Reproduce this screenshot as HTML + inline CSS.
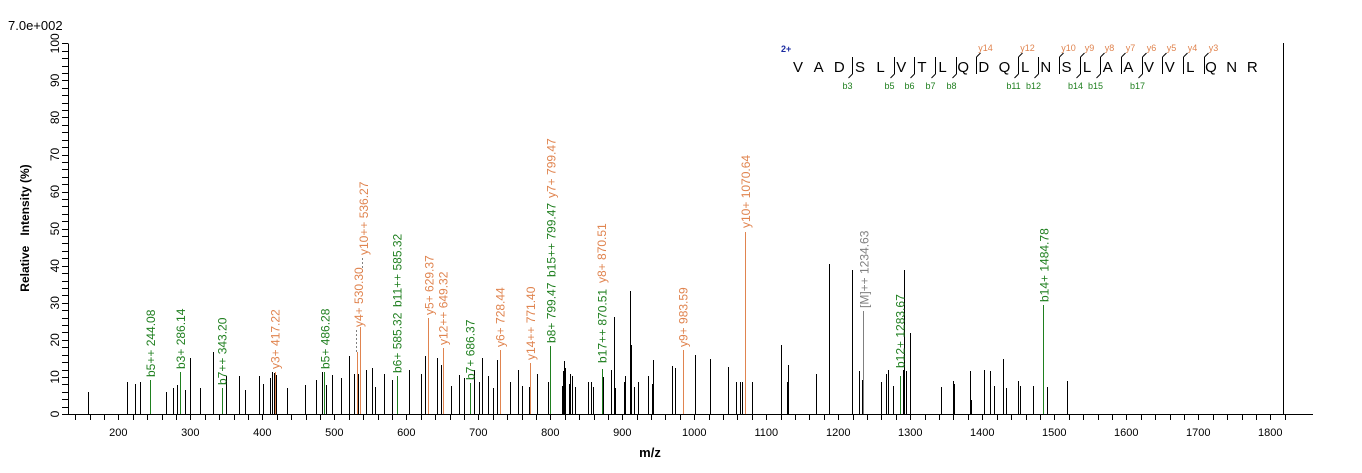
<!DOCTYPE html>
<html><head><meta charset="utf-8"><style>
html,body{margin:0;padding:0;background:#fff;}
svg{display:block;font-family:"Liberation Sans",sans-serif;}
line{shape-rendering:crispEdges;}
</style></head><body>
<svg id="s" width="1362" height="473" viewBox="0 0 1362 473" xmlns="http://www.w3.org/2000/svg">
<text x="8" y="30" font-size="13" fill="#000">7.0e+002</text>
<g id="ax" stroke="#000" stroke-width="1"></g>
<g id="pk" stroke="#000" stroke-width="1"></g>
<g id="lb" font-size="12"></g>
<text transform="translate(29,228) rotate(-90)" text-anchor="middle" font-size="12" font-weight="bold" xml:space="preserve" style="white-space:pre">Relative   Intensity (%)</text>
<text x="650" y="457" text-anchor="middle" font-size="13" font-weight="bold">m/z</text>
<g id="seq"></g>
<text x="781" y="52" font-size="9" font-weight="bold" fill="#1a2aa0">2+</text>
</svg>
<script>
var NS="http://www.w3.org/2000/svg";
function el(p,t,a,txt){var e=document.createElementNS(NS,t);for(var k in a)e.setAttribute(k,a[k]);if(txt!==undefined)e.textContent=txt;document.getElementById(p).appendChild(e);return e;}
function R(x){return Math.round(x)+0.5;}
var Y0=414,Y100=43.3;
function X(m){return 118.3+(m-200)*0.72;}
el('ax','line',{x1:68,y1:R(Y0),x2:1313,y2:R(Y0)});
el('ax','line',{x1:R(68),y1:Y100,x2:R(68),y2:Y0});
for(var m=140;m<=1820;m+=20){var x=X(m);el('ax','line',{x1:R(x),y1:Y0,x2:R(x),y2:Y0+6});
 if(m%100==0)el('lb','text',{x:x,y:436,'text-anchor':'middle','font-size':'11',fill:'#000',stroke:'none'},String(m));}
for(var v=0;v<=100;v+=2){var y=Y0-(Y0-Y100)*v/100;el('ax','line',{x1:62,y1:R(y),x2:68,y2:R(y)});
 if(v%10==0)el('lb','text',{transform:'translate(59,'+y+') rotate(-90)','text-anchor':'middle','font-size':'12',fill:'#000'},String(v));}
var P=[[88,392],[127,382],[135,384],[140,382],[166,392],[173,388],[177,385],[185,390],[190,358],[200,388],[213,352],[226,376],[239,376],[245,390],[259,376],[263,384],[270,378],[272,372],[274,373],[276,375],[287,388],[305,385],[316,380],[322,372],[326,385],[332,375],[341,378],[349,356],[354,374],[358,374],[366,370],[372,368],[375,387],[384,374],[392,380],[397,377],[409,370],[421,374],[425,356],[437,358],[441,365],[451,386],[459,375],[464,378],[474,370],[479,382],[482,358],[488,376],[493,388],[497,360],[500,382],[510,382],[518,370],[522,386],[529,387],[537,374],[548,382],[562,386],[563,371],[564,361],[565,368],[569,384],[570,374],[572,376],[575,387],[588,382],[591,382],[593,387],[603,377],[611,370],[614,317],[615,388],[624,382],[625,376],[630,291],[631,345],[634,387],[638,382],[648,376],[652,384],[653,360],[672,366],[675,368],[695,355],[710,359],[728,367],[736,382],[740,382],[742,382],[745,382],[752,382],[781,345],[787,382],[788,365],[816,374],[829,264],[852,371],[852,270],[859,371],[862,380],[881,382],[886,374],[888,370],[893,386],[903,370],[904,270],[906,371],[910,333],[941,387],[953,381],[954,384],[970,371],[971,400],[984,370],[990,371],[994,386],[1003,359],[1006,388],[1018,381],[1020,386],[1033,386],[1047,387],[1067,381]];
P.forEach(function(p){el('pk','line',{x1:R(p[0]),y1:Y0,x2:R(p[0]),y2:p[1]});});
el('pk','line',{x1:R(1283.3),y1:Y0,x2:R(1283.3),y2:43});
var G='#1f7f1f',O='#e0844f',GR='#808080';
var L=[[150,380,G,[['b5++ 244.08',377]]],[180.2,372,G,[['b3+ 286.14',369]]],[221.6,388,G,[['b7++ 343.20',385]]],
[274.5,372,O,[['y3+ 417.22',369]]],[324.4,372,G,[['b5+ 486.28',369]]],[356.5,352,O,[]],[360.4,327,O,[]],
[396.5,376,G,[['b6+ 585.32',373],['b11++ 585.32',307]]],[428.4,318,O,[['y5+ 629.37',315]]],[442.7,348,O,[['y12++ 649.32',345]]],
[469.5,383,G,[['b7+ 686.37',380]]],[499.7,350,O,[['y6+ 728.44',347]]],[530.2,363,O,[['y14++ 771.40',360]]],
[550.4,346,G,[['b8+ 799.47',343],['b15++ 799.47',277]]],[601.5,369,G,[['b17++ 870.51',363]]],[682.5,350,O,[['y9+ 983.59',347]]],
[745.2,232,O,[['y10+ 1070.64',228]]],[863.3,311,GR,[['[M]++ 1234.63',308]]],[899.5,376,G,[['b12+ 1283.67',368]]],[1043.4,305,G,[['b14+ 1484.78',302]]]];
L.forEach(function(l){el('pk','line',{x1:R(l[0]),y1:Y0,x2:R(l[0]),y2:l[1],stroke:l[2]});
 l[3].forEach(function(t){el('lb','text',{transform:'translate('+(l[0]+5)+','+t[1]+') rotate(-90)',fill:l[2]},t[0]);});});
el('lb','text',{transform:'translate(555.4,198) rotate(-90)',fill:O},'y7+ 799.47');
el('lb','text',{transform:'translate(606,283) rotate(-90)',fill:O},'y8+ 870.51');
el('lb','text',{transform:'translate(363,327) rotate(-90)',fill:O},'y4+ 530.30');
el('lb','text',{transform:'translate(368,255) rotate(-90)',fill:O},'y10++ 536.27');
el('pk','line',{x1:356.5,y1:330,x2:356.5,y2:352,stroke:GR,'stroke-dasharray':'2,2'});
el('pk','line',{x1:362.5,y1:258,x2:362.5,y2:272,stroke:GR,'stroke-dasharray':'2,2'});
var S="VADSLVTLQDQLNSLAAVVLQNR";
for(var i=0;i<S.length;i++)el('seq','text',{x:798+i*20.65,y:72,'text-anchor':'middle','font-size':'15',fill:'#000'},S[i]);
var B={3:'b3',5:'b5',6:'b6',7:'b7',8:'b8',11:'b11',12:'b12',14:'b14',15:'b15',17:'b17'};
var Yi={9:'y14',11:'y12',13:'y10',14:'y9',15:'y8',16:'y7',17:'y6',18:'y5',19:'y4',20:'y3'};
for(var k=1;k<S.length;k++){if(!B[k]&&!Yi[k])continue;var bx=R(798+k*20.65-7.5);
 el('seq','line',{x1:bx,y1:57,x2:bx,y2:74,stroke:'#000','stroke-width':1});
 if(B[k]){el('seq','line',{x1:bx,y1:74,x2:bx-4,y2:78,stroke:'#000','stroke-width':1,style:'shape-rendering:auto'});
  el('seq','text',{x:bx-5,y:89,'text-anchor':'middle','font-size':'9',fill:G},B[k]);}
 if(Yi[k]){el('seq','line',{x1:bx,y1:57,x2:bx+4,y2:53,stroke:'#000','stroke-width':1,style:'shape-rendering:auto'});
  el('seq','text',{x:bx+9,y:51,'text-anchor':'middle','font-size':'9',fill:O},Yi[k]);}}
</script>
</body></html>
